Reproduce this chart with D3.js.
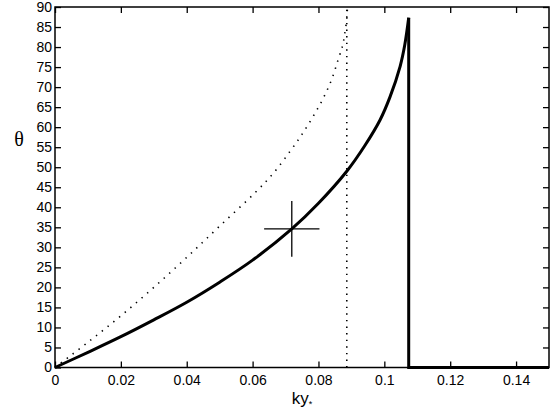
<!DOCTYPE html>
<html>
<head>
<meta charset="utf-8">
<script src="https://cdn.jsdelivr.net/npm/d3@7"></script>
<style>
  body { margin: 0; background: #fff; }
  text { font-family: "Liberation Sans", Arial, sans-serif; }
</style>
</head>
<body>
<svg width="556" height="417"></svg>
<script>
// values
var xTicks = [0, 0.02, 0.04, 0.06, 0.08, 0.1, 0.12, 0.14];
var yTicks = [0, 5, 10, 15, 20, 25, 30, 35, 40, 45, 50, 55, 60, 65, 70, 75, 80, 85, 90];

var solidKy = [0, 0.01, 0.02, 0.03, 0.04, 0.05, 0.06, 0.0719, 0.08, 0.0886, 0.094, 0.0987, 0.1017, 0.1048, 0.1062, 0.1074, 0.1074, 0.15];
var solidTheta = [0, 3.8, 7.7, 11.9, 16.3, 21.3, 26.8, 34.6, 41.0, 49.0, 55.3, 61.8, 67.5, 75.2, 80.5, 87.3, 0, 0];

var dotKy = [0, 0.01, 0.02, 0.03, 0.04, 0.05, 0.0607, 0.0663, 0.0714, 0.0749, 0.0784, 0.0815, 0.084, 0.086, 0.0874, 0.088, 0.0886, 0.0888];
var dotTheta = [0, 6.3, 12.9, 20.0, 27.5, 35.3, 43.6, 48.5, 54.0, 58.1, 62.7, 67.3, 71.9, 76.9, 80.6, 83.5, 87, 90];

var dotVertKy = 0.0886;
var crossKy = 0.0719, crossTheta = 34.6;
var crossDx = 0.0084, crossDy = 6.95;

var svg = d3.select('svg');
var plotL = 55, plotR = 549, plotT = 7, plotB = 367.5;

var x = d3.scaleLinear().domain([0, 0.15]).range([plotL, plotR]);
var y = d3.scaleLinear().domain([0, 90]).range([plotB, plotT]);

var line = d3.line()
    .x(function(d) { return x(d[0]); })
    .y(function(d) { return y(d[1]); });

// dotted curve
var dotPts = dotKy.map(function(k, i) { return [k, dotTheta[i]]; });
svg.append('path')
    .attr('d', line.curve(d3.curveCatmullRom.alpha(0.5))(dotPts))
    .attr('fill', 'none')
    .attr('stroke', '#000')
    .attr('stroke-width', 1.6)
    .attr('stroke-dasharray', '1.4 6');

// dotted vertical
svg.append('path')
    .attr('d', line.curve(d3.curveLinear)([[dotVertKy, 0], [dotVertKy, 90]]))
    .attr('fill', 'none')
    .attr('stroke', '#000')
    .attr('stroke-width', 1.6)
    .attr('stroke-dasharray', '1.4 5.2');

// solid curve: smooth part then drop to zero
var solidPts = solidKy.map(function(k, i) { return [k, solidTheta[i]]; });
var curvePart = solidPts.slice(0, 16);
var tailPart = solidPts.slice(15);
svg.append('path')
    .attr('d', line.curve(d3.curveCatmullRom.alpha(0.5))(curvePart))
    .attr('fill', 'none')
    .attr('stroke', '#000')
    .attr('stroke-width', 3);
svg.append('path')
    .attr('d', line.curve(d3.curveLinear)(tailPart))
    .attr('fill', 'none')
    .attr('stroke', '#000')
    .attr('stroke-width', 3)
    .attr('stroke-linejoin', 'miter');

// cross marker
svg.append('path')
    .attr('d', line.curve(d3.curveLinear)([[crossKy - crossDx, crossTheta], [crossKy + crossDx, crossTheta]]))
    .attr('stroke', '#000').attr('stroke-width', 1.3);
svg.append('path')
    .attr('d', line.curve(d3.curveLinear)([[crossKy, crossTheta - crossDy], [crossKy, crossTheta + crossDy]]))
    .attr('stroke', '#000').attr('stroke-width', 1.3);

// axes with inward ticks on all sides
var tl = 6;
svg.append('g').attr('transform', 'translate(0,' + plotB + ')')
    .call(d3.axisBottom(x).tickValues(xTicks).tickSize(-tl).tickPadding(8)
        .tickFormat(function(d) { return d === 0 ? '0' : String(+d.toFixed(2)); }));
svg.append('g').attr('transform', 'translate(0,' + plotT + ')')
    .call(d3.axisTop(x).tickValues(xTicks).tickSize(-tl).tickFormat(''));
svg.append('g').attr('transform', 'translate(' + plotL + ',0)')
    .call(d3.axisLeft(y).tickValues(yTicks).tickSize(-tl).tickPadding(3));
svg.append('g').attr('transform', 'translate(' + plotR + ',0)')
    .call(d3.axisRight(y).tickValues(yTicks).tickSize(-tl).tickFormat(''));

svg.selectAll('.domain').remove();
svg.selectAll('.tick line').attr('stroke', '#000').attr('stroke-width', 1.3);
svg.selectAll('.tick text')
    .attr('fill', '#000')
    .style('font-size', '14px')
    .style('font-family', '"Liberation Sans", Arial, sans-serif');

svg.append('rect')
    .attr('x', plotL).attr('y', plotT)
    .attr('width', plotR - plotL).attr('height', plotB - plotT)
    .attr('fill', 'none').attr('stroke', '#000').attr('stroke-width', 1.5);

// labels
svg.append('text')
    .attr('x', 19).attr('y', 145.5)
    .attr('text-anchor', 'middle')
    .style('font-family', '"Liberation Serif", "Times New Roman", serif')
    .style('font-size', '20px')
    .text('θ');

var xl = svg.append('text')
    .attr('x', 302).attr('y', 404)
    .attr('text-anchor', 'middle')
    .style('font-size', '17px');
xl.append('tspan').text('ky');
xl.append('tspan').attr('dy', 3).style('font-size', '9px').text('*');
</script>
</body>
</html>
